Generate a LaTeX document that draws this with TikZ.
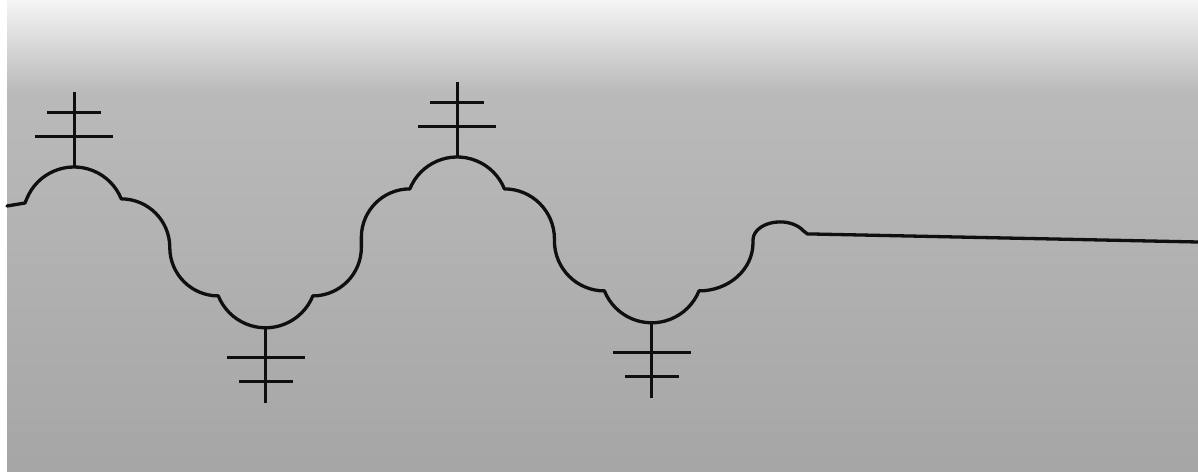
\documentclass[tikz,border=0pt]{standalone}
\usepackage{tikz}
\usetikzlibrary{positioning}

\definecolor{stonelow}{gray}{0.65}
\definecolor{stonemid}{gray}{0.73}
\definecolor{stonetop}{gray}{0.96}
\definecolor{ink}{gray}{0.06}

\begin{document}
\begin{tikzpicture}[x=1pt, y=1pt,
  wave/.style={draw=ink, line width=3.3pt, line join=round, line cap=round},
  bar/.style={draw=ink, line width=3pt},
  lorraine/.pic={
    \draw[bar] (0,0) -- (0,75);
    \draw[bar] (-39,30) -- (39,30);
    \draw[bar] (-27,54) -- (27,54);
  }]
\useasboundingbox (0,0) rectangle (1198,471);
% stone background
\shade[bottom color=stonelow, top color=stonemid] (7,0) rectangle (1198,381);
\shade[bottom color=stonemid, top color=stonetop] (7,380) rectangle (1198,471);
% peaks and troughs
\coordinate (p1) at (74,304);
\coordinate (t1) at (265.6,143.2);
\coordinate (p2) at (457.2,314);
\coordinate (t2) at (651.8,148.2);
\coordinate (edge) at (1198,229);
% the scalloped line
\draw[wave] (7,265) -- (25,268) -- (26.7,272.1)
  arc[start angle=158, end angle=22, radius=51]
  arc[start angle=90, end angle=0, radius=48.5]
  arc[start angle=180, end angle=270, radius=48.5]
  arc[start angle=202, end angle=338, radius=51]
  arc[start angle=270, end angle=360, radius=48.5]
  -- ++(0,10)
  arc[start angle=180, end angle=90, radius=48.5]
  arc[start angle=158, end angle=22, radius=51]
  arc[start angle=90, end angle=0, radius=50]
  -- ++(0,-2)
  arc[start angle=180, end angle=270, radius=50]
  arc[start angle=202, end angle=338, radius=51]
  arc[start angle=270, end angle=360, x radius=54, y radius=48]
  -- ++(0,3)
  arc[start angle=180, end angle=30, x radius=27, y radius=18]
  -- ++(4,-3) -- (edge);
% crosses
\pic at (p1) {lorraine};
\pic at (p2) {lorraine};
\pic[rotate=180] at (t1) {lorraine};
\pic[rotate=180] at (t2) {lorraine};
\end{tikzpicture}
\end{document}
